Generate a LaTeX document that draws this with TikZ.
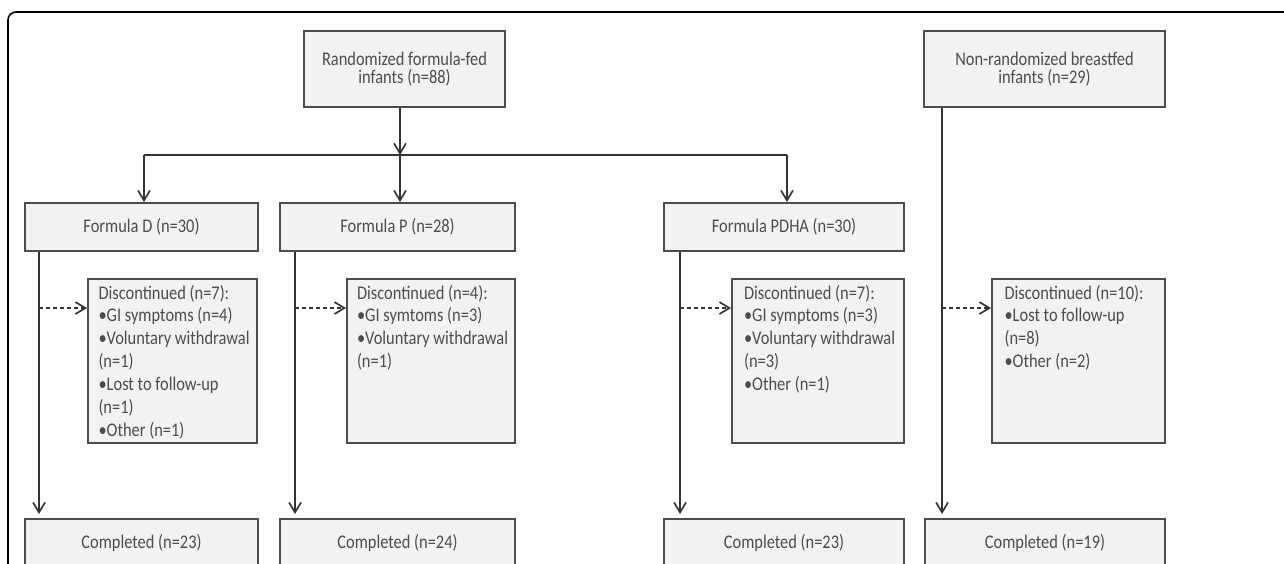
\documentclass[tikz,border=0pt]{standalone}
\usepackage{fontspec}
\setmainfont{Carlito}[FakeStretch=0.85]
\usetikzlibrary{arrows.meta}

\definecolor{boxfill}{HTML}{F2F2F2}
\definecolor{boxline}{HTML}{4D4D4D}
\definecolor{boxtext}{HTML}{4D4D4D}
\definecolor{linecol}{HTML}{333333}

\tikzset{
    box/.style={draw=boxline, fill=boxfill, text=boxtext, line width=1.1pt,
        inner sep=0pt, align=center, font=\fontsize{11pt}{10.6pt}\selectfont},
    discbox/.style={box, inner xsep=0.05cm, inner ysep=0.12cm},
    line/.style={draw=linecol, line width=0.95pt},
    arr/.style={line, -{Straight Barb[length=0.2cm, width=0.24cm]}},
    dasharr/.style={arr, dash pattern=on 0.08cm off 0.06cm},
}
\newcommand{\disctext}[1]{\begin{minipage}[t][3.04cm][t]{3.26cm}%
    \fontsize{11pt}{13pt}\selectfont\leftskip=0.15cm #1\end{minipage}}

\begin{document}
\begin{tikzpicture}[x=0.02cm, y=-0.02cm]
    \useasboundingbox (0,0) rectangle (1284,564);
    \clip (0,0) rectangle (1284,564);
    % outer frame
    \draw[line width=0.9pt, rounded corners=0.16cm] (8,600) -- (8,12) -- (1300,12);

    % top row
    \node[box, minimum width=4.02cm, minimum height=1.52cm] (rand) at (404.5,69)
        {Randomized formula-fed\\infants (n=88)};
    \node[box, minimum width=4.82cm, minimum height=1.52cm] (nonrand) at (1044.5,69)
        {Non-randomized breastfed\\infants (n=29)};

    % formula groups
    \node[box, minimum width=4.66cm, minimum height=0.96cm] (fD) at (141.5,227) {Formula D (n=30)};
    \node[box, minimum width=4.70cm, minimum height=0.96cm] (fP) at (397.5,227) {Formula P (n=28)};
    \node[box, minimum width=4.80cm, minimum height=0.96cm] (fPDHA) at (784,227) {Formula PDHA (n=30)};

    % discontinued
    \node[discbox, minimum width=3.38cm] (discD) at (172.5,361)
        {\disctext{Discontinued (n=7):\\•GI symptoms (n=4)\\•Voluntary withdrawal\\(n=1)\\•Lost to follow-up\\(n=1)\\•Other (n=1)}};
    \node[discbox, minimum width=3.36cm] (discP) at (431,361)
        {\disctext{Discontinued (n=4):\\•GI symtoms (n=3)\\•Voluntary withdrawal\\(n=1)}};
    \node[discbox, minimum width=3.44cm] (discPDHA) at (818,361)
        {\disctext{Discontinued (n=7):\\•GI symptoms (n=3)\\•Voluntary withdrawal\\(n=3)\\•Other (n=1)}};
    \node[discbox, minimum width=3.46cm] (discNR) at (1078.5,361)
        {\disctext{Discontinued (n=10):\\•Lost to follow-up\\(n=8)\\•Other (n=2)}};

    % completed
    \node[box, minimum width=4.66cm, minimum height=0.96cm] (compD) at (141.5,543) {Completed (n=23)};
    \node[box, minimum width=4.70cm, minimum height=0.96cm] (compP) at (397.5,543) {Completed (n=24)};
    \node[box, minimum width=4.80cm, minimum height=0.96cm] (compPDHA) at (784,543) {Completed (n=23)};
    \node[box, minimum width=4.80cm, minimum height=0.96cm] (compNR) at (1045,543) {Completed (n=19)};

    % randomization
    \coordinate (split) at (400,155);
    \coordinate (busL) at (144,155);
    \coordinate (busR) at (787,155);
    \draw[arr] (rand.south -| split) -- (split);
    \draw[line] (busL) -- (busR);
    \draw[arr] (busL) -- (busL |- fD.north);
    \draw[arr] (split) -- (split |- fP.north);
    \draw[arr] (busR) -- (busR |- fPDHA.north);

    % follow-up lines
    \coordinate (lD) at ([xshift=0.30cm]fD.south west);
    \coordinate (lP) at ([xshift=0.32cm]fP.south west);
    \coordinate (lPDHA) at ([xshift=0.34cm]fPDHA.south west);
    \coordinate (lNR) at ([xshift=0.38cm]nonrand.south west);
    \draw[arr, shorten >=0.08cm] (lD) -- (lD |- compD.north);
    \draw[arr, shorten >=0.08cm] (lP) -- (lP |- compP.north);
    \draw[arr, shorten >=0.08cm] (lPDHA) -- (lPDHA |- compPDHA.north);
    \draw[arr, shorten >=0.08cm] (lNR) -- (lNR |- compNR.north);
    \draw[dasharr] ([yshift=-0.6cm]lD |- discD.north) -- ([yshift=-0.6cm]discD.north west);
    \draw[dasharr] ([yshift=-0.6cm]lP |- discP.north) -- ([yshift=-0.6cm]discP.north west);
    \draw[dasharr] ([yshift=-0.6cm]lPDHA |- discPDHA.north) -- ([yshift=-0.6cm]discPDHA.north west);
    \draw[dasharr] ([yshift=-0.6cm]lNR |- discNR.north) -- ([yshift=-0.6cm]discNR.north west);
\end{tikzpicture}
\end{document}
